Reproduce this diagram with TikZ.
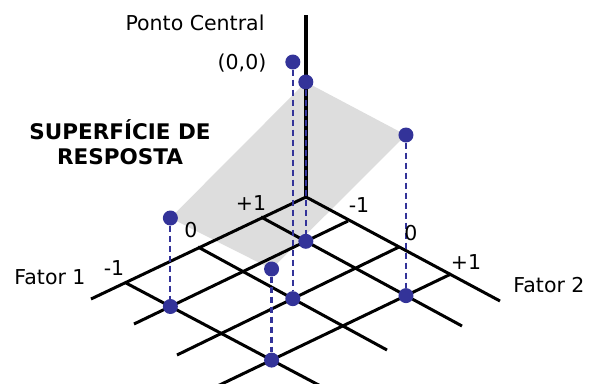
\documentclass[tikz,border=0pt]{standalone}
\usepackage{fontspec}
\setmainfont{DejaVu Sans}
\definecolor{dotblue}{RGB}{51,51,153}
\definecolor{surfgray}{RGB}{221,221,221}
\tikzset{
  ponto/.style={circle, fill=dotblue, inner sep=0pt, minimum size=15pt},
  grade/.style={line width=3pt},
  projecao/.style={dotblue, line width=2.2pt, dash pattern=on 6pt off 4pt},
  rotulo/.style={font=\fontsize{20.5}{25}\selectfont, inner sep=0pt},
}
\begin{document}
\begin{tikzpicture}[x=1pt, y=-1pt]
  \useasboundingbox (0,0) rectangle (589,383);

  % Grid: Fator 1 ticks
  \coordinate (orig) at (306,197);
  \coordinate (f1-p) at (261,217);
  \coordinate (f1-z) at (198,247);
  \coordinate (f1-m) at (126,283);
  \coordinate (f1-end) at (91,299);
  % Grid: Fator 2 ticks
  \coordinate (f2-m) at (348,221);
  \coordinate (f2-z) at (399,247);
  \coordinate (f2-p) at (451,274);
  \coordinate (f2-end) at (500,301);
  % Grid: far ends
  \coordinate (a-p-end) at (462,326);
  \coordinate (a-z-end) at (387,350);
  \coordinate (a-m-end) at (330,391);
  \coordinate (b-m-end) at (134,324);
  \coordinate (b-z-end) at (177,355);
  \coordinate (b-p-end) at (205,392);

  % Ground points (design)
  \coordinate (g-pm) at (intersection of f1-p--a-p-end and f2-m--b-m-end);
  \coordinate (g-mm) at (intersection of f1-m--a-m-end and f2-m--b-m-end);
  \coordinate (g-zz) at (intersection of f1-z--a-z-end and f2-z--b-z-end);
  \coordinate (g-mp) at (intersection of f1-m--a-m-end and f2-p--b-p-end);
  \coordinate (g-pp) at (intersection of f1-p--a-p-end and f2-p--b-p-end);

  % Response surface
  \coordinate (s-pm) at (g-pm |- 0,82);
  \coordinate (s-pp) at (g-pp |- 0,135);
  \coordinate (s-mp) at (g-mp |- 0,269);
  \coordinate (s-mm) at (g-mm |- 0,218);
  \fill[surfgray] (s-pm) -- (s-pp) -- (s-mp) -- (s-mm) -- cycle;

  % Grid lines
  \draw[grade] (orig) -- (f2-end);
  \draw[grade] (f1-p) -- (a-p-end);
  \draw[grade] (f1-z) -- (a-z-end);
  \draw[grade] (f1-m) -- (a-m-end);
  \draw[grade] (orig) -- (f1-end);
  \draw[grade] (f2-m) -- (b-m-end);
  \draw[grade] (f2-z) -- (b-z-end);
  \draw[grade] (f2-p) -- (b-p-end);

  % Vertical axis
  \coordinate (resp-top) at (306,15);
  \draw[line width=3.5pt] (orig) -- (resp-top);

  % Points and projections
  \node[ponto] (gd-pm) at (g-pm) {};
  \node[ponto] (gd-mm) at (g-mm) {};
  \node[ponto] (gd-zz) at (g-zz) {};
  \node[ponto] (gd-mp) at (g-mp) {};
  \node[ponto] (gd-pp) at (g-pp) {};
  \node[ponto] (up-pm) at (s-pm) {};
  \node[ponto] (up-mm) at (s-mm) {};
  \node[ponto] (up-zz) at (g-zz |- 0,62) {};
  \node[ponto] (up-mp) at (s-mp) {};
  \node[ponto] (up-pp) at (s-pp) {};
  \draw[projecao] (up-pm) -- (gd-pm);
  \draw[projecao] (up-mm) -- (gd-mm);
  \draw[projecao] (up-zz) -- (gd-zz);
  \draw[projecao] (up-mp) -- (gd-mp);
  \draw[projecao] (up-pp) -- (gd-pp);

  % Labels
  \node[rotulo] (lbl-centro) at (195,23) {Ponto Central};
  \node[rotulo] (lbl-zz) at (242,63) {(0,0)};
  \node[rotulo, font=\fontsize{21.5}{25}\selectfont\bfseries, align=center] (lbl-sup) at (120,142) {SUPERFÍCIE DE\\RESPOSTA};
  \node[rotulo] (lbl-f1) at (50,277) {Fator 1};
  \node[rotulo] (lbl-f1-m) at (114,268) {-1};
  \node[rotulo] (lbl-f1-z) at (191,230) {0};
  \node[rotulo] (lbl-f1-p) at (251,203) {+1};
  \node[rotulo] (lbl-f2-m) at (359,205) {-1};
  \node[rotulo] (lbl-f2-z) at (411,233) {0};
  \node[rotulo] (lbl-f2-p) at (466,262) {+1};
  \node[rotulo] (lbl-f2) at (549,285) {Fator 2};
\end{tikzpicture}
\end{document}
